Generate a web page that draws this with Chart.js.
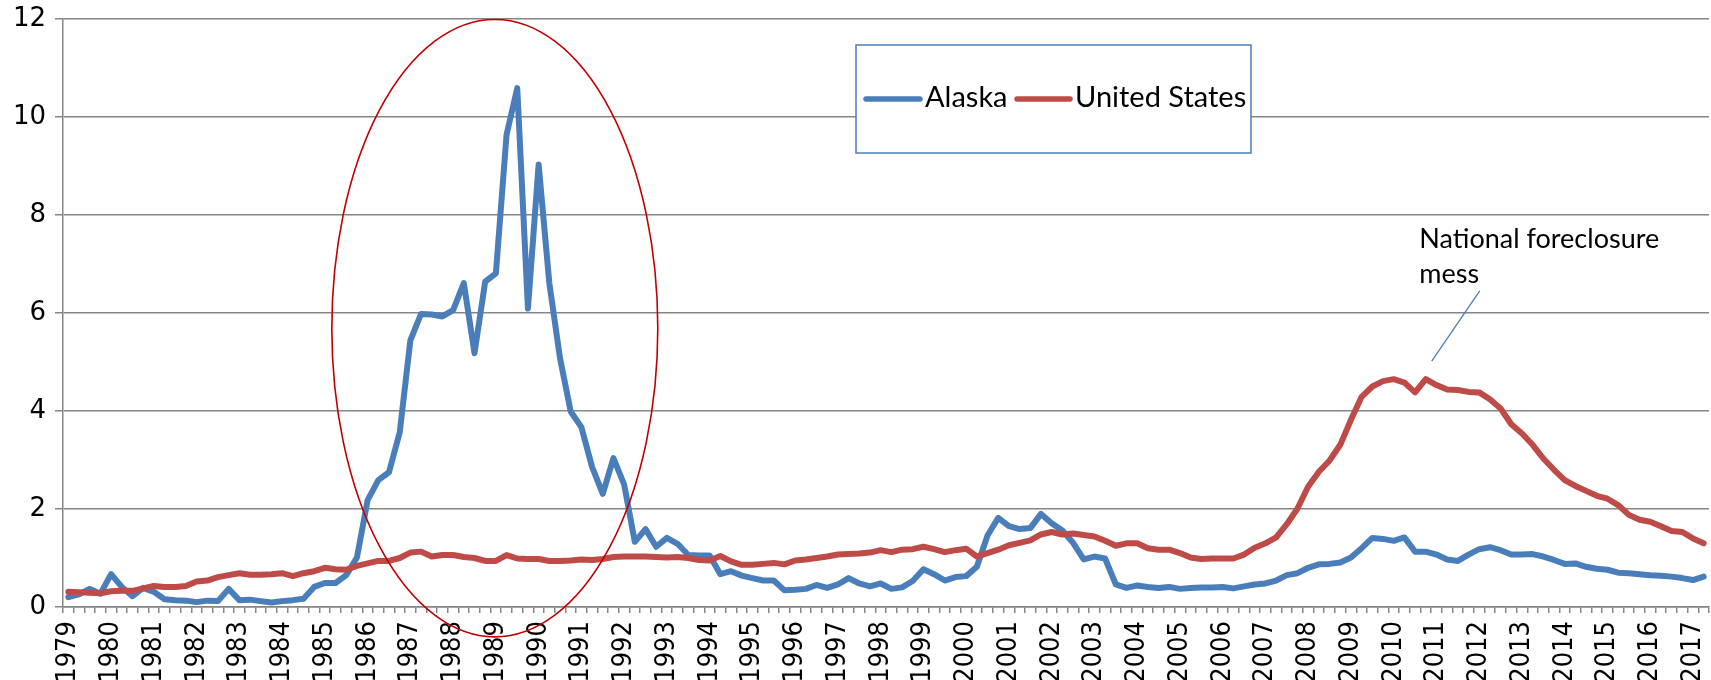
<!DOCTYPE html>
<html>
<head>
<meta charset="utf-8">
<script src="https://cdn.jsdelivr.net/npm/chart.js@4.4.1/dist/chart.umd.min.js"></script>
<style>
  html, body { margin: 0; padding: 0; background: #ffffff; }
  #wrap { width: 1711px; height: 680px; position: relative; }
</style>
</head>
<body>
<div id="wrap"><canvas id="c" width="1711" height="680"></canvas></div>
<script>
// ---- DATA (quarterly, 1979 Q1 .. 2017 Q2) ----
const yearLabels = ['1979','1980','1981','1982','1983','1984','1985','1986','1987','1988',
  '1989','1990','1991','1992','1993','1994','1995','1996','1997','1998',
  '1999','2000','2001','2002','2003','2004','2005','2006','2007','2008',
  '2009','2010','2011','2012','2013','2014','2015','2016','2017'];
const quarterNames = ['Q1','Q2','Q3','Q4'];

const alaska = [
  0.20,0.26,0.37,0.27, 0.67,0.41,0.22,0.39, 0.31,0.16,0.14,0.13, 0.10,0.13,0.12,0.37,
  0.14,0.15,0.12,0.09, 0.12,0.14,0.17,0.41, 0.49,0.49,0.65,1.01, 2.18,2.59,2.75,3.56,
  5.44,5.98,5.97,5.93, 6.06,6.61,5.18,6.64, 6.81,9.64,10.59,6.09, 9.03,6.61,5.08,3.99,
  3.67,2.86,2.31,3.04, 2.50,1.33,1.59,1.23, 1.41,1.29,1.06,1.05, 1.05,0.67,0.73,0.64,
  0.59,0.54,0.54,0.34, 0.35,0.37,0.45,0.39, 0.46,0.59,0.48,0.42, 0.48,0.37,0.40,0.53,
  0.77,0.67,0.54,0.61, 0.63,0.82,1.46,1.82, 1.65,1.59,1.61,1.90, 1.71,1.56,1.31,0.97,
  1.03,0.99,0.46,0.39, 0.44,0.41,0.39,0.41, 0.37,0.39,0.40,0.40, 0.41,0.38,0.42,0.46,
  0.48,0.54,0.65,0.69, 0.80,0.87,0.88,0.91, 1.01,1.20,1.41,1.39, 1.35,1.42,1.13,1.13,
  1.07,0.97,0.94,1.07, 1.18,1.22,1.16,1.07, 1.07,1.08,1.03,0.96, 0.88,0.89,0.82,0.78,
  0.76,0.70,0.69,0.67, 0.65,0.64,0.62,0.59, 0.55,0.62
];
const unitedStates = [
  0.31,0.30,0.29,0.28, 0.32,0.33,0.33,0.38, 0.43,0.41,0.41,0.43, 0.52,0.54,0.61,0.65,
  0.69,0.66,0.66,0.67, 0.69,0.63,0.69,0.73, 0.80,0.77,0.76,0.84, 0.89,0.94,0.94,1.00,
  1.11,1.13,1.03,1.06, 1.06,1.02,1.00,0.94, 0.94,1.06,0.99,0.98, 0.98,0.94,0.94,0.95,
  0.97,0.96,0.98,1.02, 1.03,1.03,1.03,1.02, 1.01,1.02,1.00,0.96, 0.95,1.04,0.93,0.86,
  0.86,0.88,0.90,0.87, 0.95,0.97,1.00,1.03, 1.07,1.08,1.09,1.11, 1.16,1.12,1.17,1.18,
  1.23,1.18,1.12,1.16, 1.19,1.03,1.10,1.17, 1.26,1.31,1.36,1.48, 1.53,1.48,1.50,1.47,
  1.44,1.35,1.25,1.30, 1.30,1.20,1.17,1.17, 1.10,1.01,0.98,0.99, 0.99,0.99,1.07,1.21,
  1.30,1.42,1.69,2.01, 2.46,2.76,2.99,3.31, 3.82,4.29,4.50,4.61, 4.65,4.58,4.38,4.65,
  4.53,4.44,4.43,4.39, 4.38,4.24,4.05,3.73, 3.54,3.31,3.03,2.80, 2.59,2.47,2.37,2.27,
  2.21,2.08,1.88,1.78, 1.74,1.65,1.55,1.53, 1.40,1.30
];
const seriesNames = ['Alaska', 'United States'];
const annotationLines = ['National foreclosure', 'mess'];

// category labels built from years x quarters
const categories = [];
for (let y = 0; y < yearLabels.length; y++) {
  for (let q = 0; q < 4; q++) {
    if (categories.length < alaska.length) categories.push(yearLabels[y] + ' ' + quarterNames[q]);
  }
}

// ---- STYLE ----
const BLUE = '#4a7ebb';
const RED = '#be4b48';
const GRID = '#868686';

const overlayPlugin = {
  id: 'overlay',
  afterDraw(chart) {
    const ctx = chart.ctx;
    const xs = chart.scales.x, ys = chart.scales.y;
    ctx.save();
    // Ellipse around the Alaska spike (in data units)
    const cx = xs.getPixelForValue(39.9), cy = ys.getPixelForValue(5.69);
    const rx = Math.abs(xs.getPixelForValue(39.9 + 15.25) - cx);
    const ry = Math.abs(ys.getPixelForValue(5.69 + 6.3) - cy);
    ctx.beginPath();
    ctx.ellipse(cx, cy, rx, ry, 0, 0, Math.PI * 2);
    ctx.strokeStyle = '#c00000';
    ctx.lineWidth = 1.6;
    ctx.stroke();

    // Annotation pointer line
    ctx.beginPath();
    ctx.moveTo(xs.getPixelForValue(132.05), ys.getPixelForValue(6.45));
    ctx.lineTo(xs.getPixelForValue(127.56), ys.getPixelForValue(5.02));
    ctx.strokeStyle = BLUE;
    ctx.lineWidth = 1.3;
    ctx.stroke();

    // Annotation text
    ctx.fillStyle = '#000000';
    ctx.font = '27px Lato';
    ctx.textAlign = 'left';
    ctx.textBaseline = 'alphabetic';
    const tx = xs.getPixelForValue(126.4);
    ctx.fillText(annotationLines[0], tx, ys.getPixelForValue(7.33));
    ctx.fillText(annotationLines[1], tx, ys.getPixelForValue(6.61));

    // Legend box
    const L = { x: 856, y: 45, w: 395, h: 108 };
    ctx.fillStyle = '#ffffff';
    ctx.fillRect(L.x, L.y, L.w, L.h);
    ctx.strokeStyle = BLUE;
    ctx.lineWidth = 1.5;
    ctx.strokeRect(L.x, L.y, L.w, L.h);
    const ly = 99;
    const items = chart.data.datasets.map(d => ({ label: d.label, color: d.borderColor }));
    const layout = [{ x0: 866, x1: 920, tx: 925 }, { x0: 1017, x1: 1070, tx: 1075 }];
    ctx.font = '29px Lato';
    ctx.lineCap = 'round';
    items.forEach((it, k) => {
      ctx.beginPath();
      ctx.moveTo(layout[k].x0, ly);
      ctx.lineTo(layout[k].x1, ly);
      ctx.strokeStyle = it.color;
      ctx.lineWidth = 5.5;
      ctx.stroke();
      ctx.fillStyle = '#000000';
      ctx.fillText(it.label, layout[k].tx, 107);
    });
    ctx.restore();
  }
};

new Chart(document.getElementById('c'), {
  type: 'line',
  data: {
    labels: categories,
    datasets: [
      { label: seriesNames[0], data: alaska, borderColor: BLUE, backgroundColor: BLUE,
        borderWidth: 6, pointRadius: 0, tension: 0, borderJoinStyle: 'round', borderCapStyle: 'round', order: 1 },
      { label: seriesNames[1], data: unitedStates, borderColor: RED, backgroundColor: RED,
        borderWidth: 6, pointRadius: 0, tension: 0, borderJoinStyle: 'round', borderCapStyle: 'round', order: 0 }
    ]
  },
  options: {
    responsive: false,
    animation: false,
    devicePixelRatio: 1,
    layout: { autoPadding: false, padding: { top: 19, right: 2, left: 0, bottom: 0 } },
    plugins: { legend: { display: false }, tooltip: { enabled: false } },
    scales: {
      x: {
        type: 'category',
        offset: true,
        grid: { display: true, drawOnChartArea: false, drawTicks: true, tickLength: 6, color: GRID, lineWidth: 1.5, offset: true },
        border: { display: true, color: GRID, width: 1.5 },
        ticks: {
          autoSkip: false, minRotation: 90, maxRotation: 90, padding: 8,
          color: '#000000',
          font: { family: "'DejaVu Sans Condensed', 'DejaVu Sans', sans-serif", size: 27 },
          callback: function (val, idx) {
            const lab = this.getLabelForValue(val);
            return lab.endsWith('Q1') ? lab.slice(0, 4) : '';
          }
        },
        afterFit: (s) => { s.height = 73; s.paddingLeft = 0; s.paddingRight = 0; }
      },
      y: {
        min: 0, max: 12,
        grid: { color: GRID, lineWidth: 1.5, drawTicks: true, tickLength: 8 },
        border: { display: true, color: GRID, width: 1.5 },
        ticks: { stepSize: 2, padding: 9, color: '#000000', font: { family: "'DejaVu Sans', sans-serif", size: 26 } },
        afterFit: (s) => { s.width = 63; s.paddingTop = 0; s.paddingBottom = 0; }
      }
    }
  },
  plugins: [overlayPlugin]
});
</script>
</body>
</html>
